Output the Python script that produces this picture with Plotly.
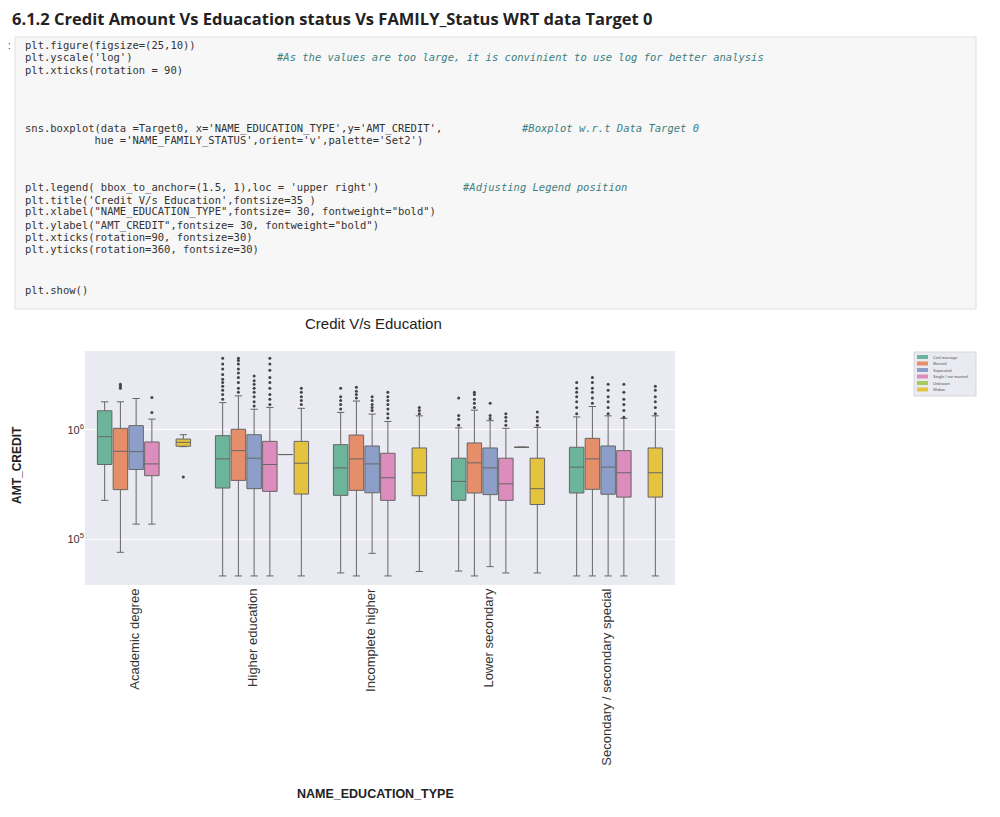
import plotly.graph_objects as go

categories = ["Academic degree", "Higher education", "Incomplete higher", "Lower secondary",
              "Secondary / secondary special"]
statuses = ["Civil marriage", "Married", "Separated", "Single / not married", "Unknown", "Widow"]
colors = ["#6cb59b", "#e58e6a", "#8d9fc9", "#dc8dbd", "#a6cd5b", "#e4c43e"]

# stats per (category, status): [lowerfence, q1, median, q3, upperfence] or None
stats = {
 0: [[226e3, 481e3, 863e3, 1.49e6, 1.80e6], [75.7e3, 283e3, 635e3, 1.03e6, 1.80e6],
     [137e3, 433e3, 631e3, 1.09e6, 1.93e6], [137e3, 380e3, 487e3, 773e3, 1.25e6],
     None, [700e3, 706e3, 767e3, 822e3, 900e3]],
 1: [[46e3, 293e3, 541e3, 882e3, 1.77e6], [46e3, 344e3, 644e3, 1.01e6, 2.04e6],
     [46e3, 289e3, 549e3, 900e3, 1.54e6], [46e3, 273e3, 481e3, 783e3, 1.6e6],
     [593e3, 593e3, 593e3, 593e3, 593e3], [46e3, 258e3, 494e3, 783e3, 1.57e6]],
 2: [[49e3, 251e3, 448e3, 730e3, 1.44e6], [46e3, 279e3, 541e3, 894e3, 1.83e6],
     [74e3, 265e3, 487e3, 710e3, 1.39e6], [46e3, 226e3, 364e3, 609e3, 1.19e6],
     None, [50.5e3, 249e3, 404e3, 681e3, 1.34e6]],
 3: [[51e3, 226e3, 337e3, 549e3, 1.04e6], [46e3, 264e3, 498e3, 757e3, 1.51e6],
     [56e3, 255e3, 448e3, 681e3, 1.21e6], [49e3, 226e3, 320e3, 549e3, 1.03e6],
     [691e3, 691e3, 691e3, 691e3, 691e3], [49e3, 207e3, 289e3, 549e3, 1.05e6]],
 4: [[46e3, 264e3, 455e3, 691e3, 1.31e6], [46e3, 285e3, 541e3, 834e3, 1.63e6],
     [46e3, 257e3, 455e3, 710e3, 1.34e6], [46e3, 242e3, 404e3, 644e3, 1.27e6],
     None, [46e3, 242e3, 404e3, 681e3, 1.34e6]],
}
outliers = {
 (0, 1): [2.4e6, 2.5e6, 2.6e6], (0, 3): [1.44e6, 1.97e6], (0, 5): [369e3],
 (1, 0): [1.9e6, 2.1e6, 2.3e6, 2.5e6, 2.7e6, 2.9e6, 3.2e6, 3.6e6, 4.0e6, 4.5e6],
 (1, 1): [2.2e6, 2.4e6, 2.7e6, 3.0e6, 3.3e6, 3.6e6, 4.0e6, 4.3e6, 4.5e6],
 (1, 2): [1.65e6, 1.8e6, 2.0e6, 2.2e6, 2.4e6, 2.6e6, 2.8e6, 3.1e6],
 (1, 3): [1.7e6, 1.9e6, 2.1e6, 2.4e6, 2.7e6, 3.0e6, 3.5e6, 4.0e6, 4.5e6],
 (1, 5): [1.7e6, 1.85e6, 2.0e6, 2.2e6, 2.4e6],
 (2, 0): [1.55e6, 1.7e6, 1.85e6, 2.0e6, 2.4e6],
 (2, 1): [1.95e6, 2.1e6, 2.25e6, 2.45e6],
 (2, 2): [1.5e6, 1.6e6, 1.7e6, 1.85e6, 2.0e6],
 (2, 3): [1.28e6, 1.4e6, 1.55e6, 1.7e6, 1.85e6, 2.0e6, 2.2e6],
 (2, 5): [1.4e6, 1.5e6, 1.6e6],
 (3, 0): [1.1e6, 1.25e6, 1.35e6, 1.95e6],
 (3, 1): [1.6e6, 1.75e6, 1.9e6, 2.1e6, 2.2e6],
 (3, 2): [1.27e6, 1.35e6, 1.75e6],
 (3, 3): [1.1e6, 1.2e6, 1.3e6, 1.4e6],
 (3, 5): [1.1e6, 1.2e6, 1.3e6, 1.45e6],
 (4, 0): [1.4e6, 1.6e6, 1.8e6, 2.0e6, 2.2e6, 2.4e6, 2.7e6],
 (4, 1): [1.75e6, 1.95e6, 2.2e6, 2.4e6, 2.7e6, 3.0e6],
 (4, 2): [1.4e6, 1.6e6, 1.8e6, 2.0e6, 2.3e6, 2.6e6],
 (4, 3): [1.3e6, 1.5e6, 1.7e6, 1.9e6, 2.2e6, 2.6e6],
 (4, 5): [1.4e6, 1.6e6, 1.8e6, 2.0e6, 2.3e6, 2.5e6],
}

fig = go.Figure()
slot = 0.8 / 6
for j, st in enumerate(statuses):
    for i in range(len(categories)):
        s = stats[i][j]
        if s is None:
            continue
        xpos = i + (j - 2.5) * slot
        fig.add_trace(go.Box(
            x=[xpos], lowerfence=[s[0]], q1=[s[1]], median=[s[2]], q3=[s[3]], upperfence=[s[4]],
            width=slot * 0.92, fillcolor=colors[j], line=dict(color="#666666", width=1),
            name=st, showlegend=False, boxpoints=False, hoverinfo="skip"))
        if (i, j) in outliers:
            ov = outliers[(i, j)]
            fig.add_trace(go.Scatter(x=[xpos] * len(ov), y=ov, mode="markers",
                                     marker=dict(size=3, color="#444444"), showlegend=False,
                                     hoverinfo="skip"))

OFF = 8  # page offset of the plot div
L, R, T, B = 85, 675, 351, 585
def px(x): return (x - L) / (R - L)
def py(y): return (B - y) / (B - T)

ann = []
shapes = []
def A(x, y, text, **kw):
    d = dict(x=px(x), y=py(y), xref="paper", yref="paper", text=text, showarrow=False)
    d.update(kw)
    ann.append(d)

A(10, 18, "<b>6.1.2 Credit Amount Vs Eduacation status Vs FAMILY_Status WRT data Target 0</b>",
  font=dict(size=16.5, color="#222", family="Open Sans"), xanchor="left", yanchor="middle")
shapes.append(dict(type="rect", xref="paper", yref="paper", x0=px(15), x1=px(976), y0=py(37), y1=py(309),
                   fillcolor="#f7f7f7", line=dict(color="#e0e0e0", width=1), layer="below"))
A(9, 45, ":", font=dict(size=10, color="#333"), xanchor="center", yanchor="middle")

code_lines = [
 (45, "plt.figure(figsize=(25,10))", None, 0),
 (57, "plt.yscale('log')", "#As the values are too large, it is convinient to use log for better analysis", 274),
 (70, "plt.xticks(rotation = 90)", None, 0),
 (128, "sns.boxplot(data =Target0, x='NAME_EDUCATION_TYPE',y='AMT_CREDIT',", "#Boxplot w.r.t Data Target 0", 519),
 (140, "           hue ='NAME_FAMILY_STATUS',orient='v',palette='Set2')", None, 0),
 (187, "plt.legend( bbox_to_anchor=(1.5, 1),loc = 'upper right')", "#Adjusting Legend position", 460),
 (200, "plt.title('Credit V/s Education',fontsize=35 )", None, 0),
 (212, "plt.xlabel(\"NAME_EDUCATION_TYPE\",fontsize= 30, fontweight=\"bold\")", None, 0),
 (225, "plt.ylabel(\"AMT_CREDIT\",fontsize= 30, fontweight=\"bold\")", None, 0),
 (237, "plt.xticks(rotation=90, fontsize=30)", None, 0),
 (249, "plt.yticks(rotation=360, fontsize=30)", None, 0),
 (290, "plt.show()", None, 0),
]
for y, code, com, cx in code_lines:
    A(23, y, code.replace(" ", "\u00a0"), xanchor="left", yanchor="middle",
      font=dict(size=10.5, color="#333", family="DejaVu Sans Mono"))
    if com:
        A(cx, y, "<i>" + com.replace(" ", "\u00a0") + "</i>", xanchor="left", yanchor="middle",
          font=dict(size=10.5, color="#408080", family="DejaVu Sans Mono"))

A(373, 323, "Credit V/s Education", font=dict(size=15, color="#222"), xanchor="center", yanchor="middle")
A(8, 465, "<b>AMT_CREDIT</b>", textangle=-90, font=dict(size=12, color="#222"))
A(375, 803, "<b>NAME_EDUCATION_TYPE</b>", font=dict(size=12.5, color="#222"))

# manual legend
shapes.append(dict(type="rect", xref="paper", yref="paper", x0=px(914), x1=px(976), y0=py(352), y1=py(396),
                   fillcolor="#eaeaf2", line=dict(color="#d8d8d8", width=1)))
for j, st in enumerate(statuses):
    yc = 357 + j * 6.5
    shapes.append(dict(type="rect", xref="paper", yref="paper", x0=px(917), x1=px(928),
                       y0=py(yc + 2), y1=py(yc - 2), fillcolor=colors[j], line=dict(width=0)))
    A(931, yc, st, xanchor="left", yanchor="middle", font=dict(size=4, color="#555"))

fig.update_layout(
    width=1000, height=817,
    margin=dict(l=L - OFF, r=1000 - R + OFF, t=T - OFF, b=817 - B + OFF, autoexpand=False),
    paper_bgcolor="white", plot_bgcolor="#eaeaf2", showlegend=False,
    font=dict(family="Liberation Sans", color="#333"),
    annotations=ann, shapes=shapes,
    xaxis=dict(range=[-0.5, 4.5], tickmode="array", tickvals=list(range(5)), ticktext=categories,
               tickangle=-90, tickfont=dict(size=13, color="#333"), showgrid=False, zeroline=False,
               automargin=False, ticklabelshift=-9),
    yaxis=dict(type="log", range=[4.58, 6.72], tickvals=[1e5, 1e6], ticktext=["10<sup>5</sup>", "10<sup>6</sup>"],
               tickfont=dict(size=11, color="#333"), gridcolor="white", zeroline=False, automargin=False),
)
fig.write_html("out.html")
